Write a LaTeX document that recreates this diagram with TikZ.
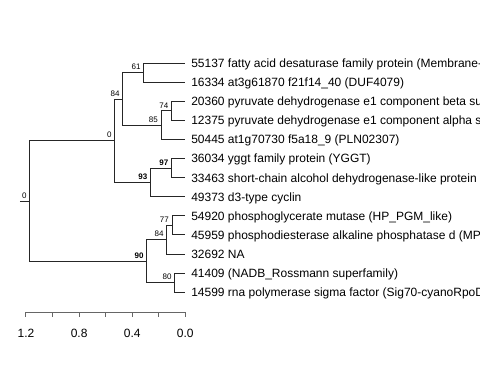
\documentclass[tikz,border=0pt]{standalone}
\usepackage{fontspec}
\setmainfont{Liberation Sans}
\tikzset{
  leaf/.style={anchor=west,inner xsep=4.3pt,inner ysep=0pt,text height=7pt,text depth=0.6pt,font=\fontsize{9}{10}\selectfont},
  boot/.style={anchor=base east,inner sep=0pt,xshift=-2.4pt,yshift=2.2pt,font=\fontsize{6}{7}\selectfont},
  bootbf/.style={boot,font=\fontsize{6}{7}\selectfont\bfseries},
  branch/.style={line width=0.75pt,black!85}
}

\begin{document}
\begin{tikzpicture}[x=0.75pt,y=-0.75pt]
  \useasboundingbox (0,0) rectangle (480,384);

  % tips
  \node[leaf] (l55137) at (185.3,63.3)  {55137 fatty acid desaturase family protein (Membrane-};
  \node[leaf] (l16334) at (185.3,82.4)  {16334 at3g61870 f21f14\_40 (DUF4079)};
  \node[leaf] (l20360) at (185.3,101.5) {20360 pyruvate dehydrogenase e1 component beta su};
  \node[leaf] (l12375) at (185.3,120.5) {12375 pyruvate dehydrogenase e1 component alpha s};
  \node[leaf] (l50445) at (185.3,139.6) {50445 at1g70730 f5a18\_9 (PLN02307)};
  \node[leaf] (l36034) at (185.3,158.7) {36034 yggt family protein (YGGT)};
  \node[leaf] (l33463) at (185.3,177.8) {33463 short-chain alcohol dehydrogenase-like protein};
  \node[leaf] (l49373) at (185.3,196.9) {49373 d3-type cyclin};
  \node[leaf] (l54920) at (185.3,215.9) {54920 phosphoglycerate mutase (HP\_PGM\_like)};
  \node[leaf] (l45959) at (185.3,235.0) {45959 phosphodiesterase alkaline phosphatase d (MP};
  \node[leaf] (l32692) at (185.3,254.1) {32692 NA};
  \node[leaf] (l41409) at (185.3,273.2) {41409 (NADB\_Rossmann superfamily)};
  \node[leaf] (l14599) at (185.3,292.3) {14599 rna polymerase sigma factor (Sig70-cyanoRpoD};

  % inner nodes
  \coordinate (c61)  at (144,72.85);
  \coordinate (c74)  at (171.7,111.0);
  \coordinate (c85)  at (161.3,125.3);
  \coordinate (c84)  at (123,99.1);
  \coordinate (c97)  at (171.7,168.25);
  \coordinate (c93)  at (150.7,182.6);
  \coordinate (c0)   at (115,140.85);
  \coordinate (c77)  at (172.3,225.45);
  \coordinate (c84b) at (167,239.8);
  \coordinate (c80)  at (175,282.75);
  \coordinate (c90)  at (147,261.3);
  \coordinate (root) at (30,201.1);
  \coordinate (stub) at (20,201.1);

  % branches
  \draw[branch] (stub) -- (root);
  \draw[branch] (root) |- (c0);
  \draw[branch] (root) |- (c90);
  \draw[branch] (c0) |- (c84);
  \draw[branch] (c0) |- (c93);
  \draw[branch] (c84) |- (c61);
  \draw[branch] (c84) |- (c85);
  \draw[branch] (c61) |- (l55137.west);
  \draw[branch] (c61) |- (l16334.west);
  \draw[branch] (c85) |- (c74);
  \draw[branch] (c85) |- (l50445.west);
  \draw[branch] (c74) |- (l20360.west);
  \draw[branch] (c74) |- (l12375.west);
  \draw[branch] (c93) |- (c97);
  \draw[branch] (c93) |- (l49373.west);
  \draw[branch] (c97) |- (l36034.west);
  \draw[branch] (c97) |- (l33463.west);
  \draw[branch] (c90) |- (c84b);
  \draw[branch] (c90) |- (c80);
  \draw[branch] (c84b) |- (c77);
  \draw[branch] (c84b) |- (l32692.west);
  \draw[branch] (c77) |- (l54920.west);
  \draw[branch] (c77) |- (l45959.west);
  \draw[branch] (c80) |- (l41409.west);
  \draw[branch] (c80) |- (l14599.west);

  % support values
  \node[boot]   (b0r)  at (root) {0};
  \node[boot]   (b0)   at (c0)   {0};
  \node[boot]   (b84)  at (c84)  {84};
  \node[boot]   (b61)  at (c61)  {61};
  \node[boot]   (b85)  at (c85)  {85};
  \node[boot]   (b74)  at (c74)  {74};
  \node[bootbf] (b93)  at (c93)  {93};
  \node[bootbf] (b97)  at (c97)  {97};
  \node[bootbf] (b90)  at (c90)  {90};
  \node[boot]   (b84b) at (c84b) {84};
  \node[boot]   (b77)  at (c77)  {77};
  \node[boot]   (b80)  at (c80)  {80};

  % scale
  \draw[branch,black!60] (26,312.3) -- (185.3,312.3);
  \foreach \i in {0,...,6}
    \draw[branch,black!60] (26+\i*26.55,312.3) -- ++(0,5);
  \foreach \i/\v in {0/1.2,2/0.8,4/0.4,6/0.0}
    \node[anchor=base,inner sep=0pt,font=\fontsize{9}{10}\selectfont] (ax\i) at (26+\i*26.55,337.3) {\v};
\end{tikzpicture}
\end{document}
